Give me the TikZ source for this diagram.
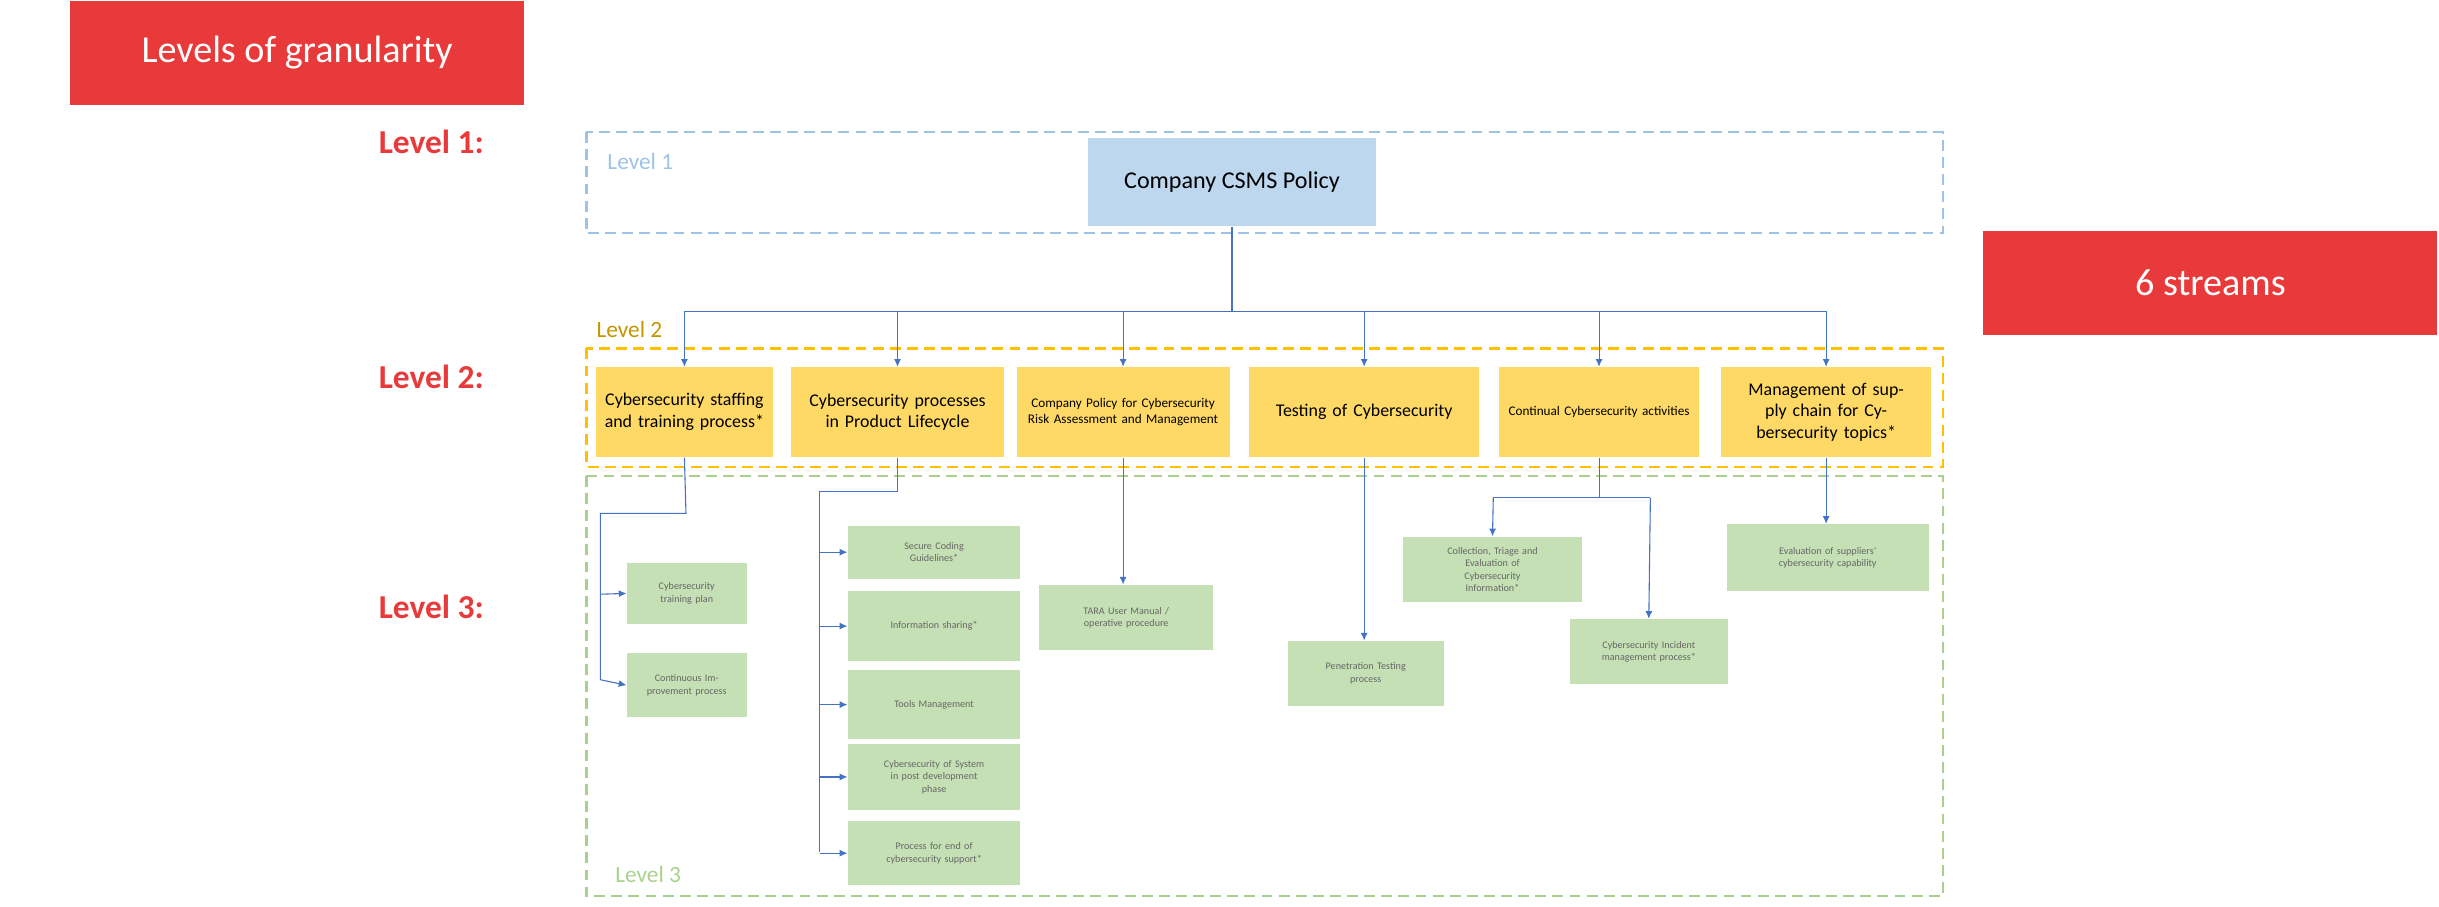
\documentclass[tikz,border=0pt]{standalone}
\usepackage{fontspec}
\setmainfont{Carlito}
\usetikzlibrary{arrows.meta}
\definecolor{redb}{HTML}{E83A3A}
\definecolor{blueb}{HTML}{BDD7EE}
\definecolor{bluel}{HTML}{9DC3E6}
\definecolor{yelb}{HTML}{FFD966}
\definecolor{yell}{HTML}{FFC000}
\definecolor{yeltxt}{HTML}{C59400}
\definecolor{greb}{HTML}{C5E0B4}
\definecolor{grel}{HTML}{A9D18E}
\definecolor{conn}{HTML}{4472C4}
\begin{document}
\begin{tikzpicture}[x=1pt,y=-1pt,
  box/.style={draw=none,minimum width=#1,inner sep=1pt,align=center,text width=#1-6pt},
  red/.style={fill=redb,text=white,font=\fontsize{24.5}{28}\selectfont,inner sep=0pt,minimum width=292pt,minimum height=67pt},
  lvl/.style={text=redb,font=\fontsize{21.5}{24}\selectfont\bfseries,anchor=west},
  y2/.style={fill=yelb,font=\fontsize{11.5}{14}\selectfont,minimum height=58pt},
  y2s/.style={fill=yelb,font=\fontsize{8.5}{10}\selectfont,minimum height=58pt},
  g3/.style={fill=greb,text=black!60,font=\fontsize{6.5}{8}\selectfont},
  ar/.style={draw=conn,line width=0.7pt,-{Latex[length=5pt,width=4.5pt]}},
  ln/.style={draw=conn,line width=0.7pt},
  dsh/.style={line width=1.4pt,dash pattern=on 7pt off 4pt},
  ll/.style={font=\fontsize{15}{17}\selectfont,anchor=west}]
\useasboundingbox (0,0) rectangle (1568,583);
\node[red] (lg) at (191,34) {Levels of granularity};
\node[red] (st) at (1421,182) {6 streams};
\node[lvl] (l1) at (240,91) {Level 1:};
\node[lvl] (l2) at (240,242) {Level 2:};
\node[lvl] (l3) at (240,390) {Level 3:};
\draw[bluel,dsh] (377,85) rectangle (1249,150);
\node[text=bluel,ll] (t1) at (387,104) {Level 1};
\draw[yell,dsh] (377,224) rectangle (1249,300);
\node[text=yeltxt,ll] (t2) at (380,212) {Level 2};
\draw[grel,dsh] (377,306) rectangle (1249,576);
\node[text=grel,ll] (t3) at (392,562) {Level 3};
\node[fill=blueb,minimum width=185pt,minimum height=57pt,font=\fontsize{15.5}{18}\selectfont] (p) at (792,117) {Company CSMS Policy};
\node[box=114pt,y2] (a) at (440,265) {Cybersecurity staffing and training process*};
\node[box=137pt,y2] (b) at (577,265) {Cybersecurity processes in Product Lifecycle};
\node[box=137pt,y2s] (c) at (722,265) {Company Policy for Cybersecurity Risk Assessment and Management};
\node[box=148pt,y2] (d) at (877,265) {Testing of Cybersecurity};
\node[box=129pt,y2s] (e) at (1028,265) {Continual Cybersecurity activities};
\node[box=135pt,y2] (f) at (1174,265) {Management of supply chain for Cybersecurity topics*};
\coordinate (bus) at (792,200);
\draw[ln] (p.south) -- (bus);
\draw[ln] (440,200) -- (1174,200);
\foreach \n in {a,b,c,d,e,f} \draw[ar] (\n.north |- bus) -- (\n.north);
% level 3
\node[box=77pt,g3,minimum height=39pt] (a1) at (441.5,381.5) {Cybersecurity training plan};
\node[box=77pt,g3,minimum height=41pt] (a2) at (441.5,440.5) {Continuous Improvement process};
\draw[ln] (a.south) -- (441,330) -- (386,330) -- (386,437);
\draw[ar] (386,382) -- (a1.west);
\draw[ar] (386,437) -- (a2.west);
\node[box=111pt,g3,minimum height=34pt] (b1) at (600.5,355) {Secure Coding\\Guidelines*};
\node[box=111pt,g3,minimum height=45pt] (b2) at (600.5,402.5) {Information sharing*};
\node[box=111pt,g3,minimum height=44pt] (b3) at (600.5,453) {Tools Management};
\node[box=111pt,g3,minimum height=43pt] (b4) at (600.5,499.5) {Cybersecurity of System\\in post development\\phase};
\node[box=111pt,g3,minimum height=41pt] (b5) at (600.5,548.5) {Process for end of\\cybersecurity support*};
\draw[ln] (b.south) -- (577,316) -- (527,316) -- (527,548);
\foreach \n in {b1,b2,b3,b4,b5} \draw[ar] (527,0 |- \n.west) -- (\n.west);
\node[box=112pt,g3,minimum height=42pt] (c1) at (724,397) {TARA User Manual /\\operative procedure};
\draw[ar] (c.south) -- (c.south |- c1.north);
\node[box=100pt,g3,minimum height=42pt] (d1) at (878,433) {Penetration Testing\\process};
\draw[ar] (d.south) -- (d.south |- d1.north);
\node[box=115pt,g3,minimum height=42pt] (e1) at (959.5,366) {Collection, Triage and\\Evaluation of\\Cybersecurity\\Information*};
\node[box=102pt,g3,minimum height=42pt] (e2) at (1060,419) {Cybersecurity Incident\\management process*};
\draw[ln] (e.south) -- (1028,320) -- (960,320);
\draw[ln] (1028,320) -- (1061,320);
\draw[ar] (960,320) -- (e1.north);
\draw[ar] (1061,320) -- (e2.north);
\node[box=130pt,g3,minimum height=43pt] (f1) at (1175,358.5) {Evaluation of suppliers'\\cybersecurity capability};
\draw[ar] (f.south) -- (f.south |- f1.north);
\end{tikzpicture}
\end{document}
